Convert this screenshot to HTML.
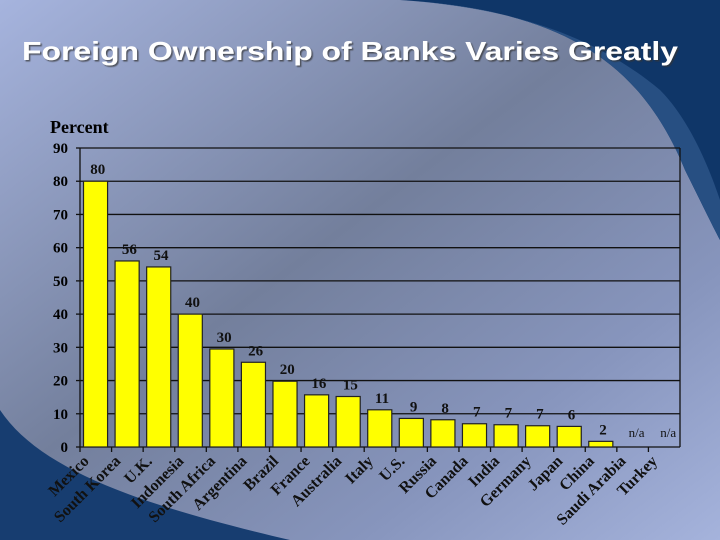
<!DOCTYPE html>
<html><head><meta charset="utf-8"><style>
html,body{margin:0;padding:0;width:720px;height:540px;overflow:hidden}
svg{display:block}
</style></head><body>
<svg width="720" height="540" viewBox="0 0 720 540">
<defs>
<linearGradient id="bg" x1="0" y1="0" x2="1" y2="1">
<stop offset="0" stop-color="#a6b4de"/>
<stop offset="0.45" stop-color="#737f9c"/>
<stop offset="0.75" stop-color="#8795bd"/>
<stop offset="1" stop-color="#a5b3dc"/>
</linearGradient>
<filter id="sh"><feDropShadow dx="1.5" dy="1.5" stdDeviation="0.6" flood-color="#333" flood-opacity="0.7"/></filter>
</defs>
<rect width="720" height="540" fill="url(#bg)"/>
<path d="M400,0 C560,10 640,60 685,170 C700,200 712,225 720,240 L720,0 Z" fill="#0f3668"/>
<path d="M400,0 C520,8 600,40 660,90 C690,120 710,170 720,200 L720,240 C712,225 700,200 685,170 C640,60 560,10 400,0Z" fill="#274f82"/>
<path d="M0,410 C40,470 140,505 290,540 L0,540 Z" fill="#173d70"/>
<text x="22" y="60" font-family="'Liberation Sans',sans-serif" font-weight="bold" font-size="26" fill="#fff" textLength="656" lengthAdjust="spacingAndGlyphs" filter="url(#sh)">Foreign Ownership of Banks Varies Greatly</text>
<g id="chart"></g>
</svg>
<script>
const categories=["Mexico","South Korea","U.K.","Indonesia","South Africa","Argentina","Brazil","France","Australia","Italy","U.S.","Russia","Canada","India","Germany","Japan","China","Saudi Arabia","Turkey"];
const values=[80,56,54.2,40,29.5,25.5,19.8,15.7,15.2,11.2,8.6,8.2,7,6.7,6.4,6.2,1.7,null,null];
const valueLabels=["80","56","54","40","30","26","20","16","15","11","9","8","7","7","7","6","2","n/a","n/a"];
const yTicks=[0,10,20,30,40,50,60,70,80,90];
const NS="http://www.w3.org/2000/svg";
const g=document.getElementById('chart');
const X0=80,X1=680,Y0=447,Y1=148,YMAX=90;
const slot=(X1-X0)/categories.length;
const y=v=>Y0-(v/YMAX)*(Y0-Y1);
const x=i=>X0+i*slot;
function mk(t,a){const e=document.createElementNS(NS,t);for(const k in a)e.setAttribute(k,a[k]);g.appendChild(e);return e;}
const F="'Liberation Serif',serif";
yTicks.forEach(t=>{
 if(t>0){const l=mk('line',{x1:X0,x2:X1,y1:y(t),y2:y(t),stroke:'#111','stroke-width':1.3});
 
 }
 const tk=mk('line',{x1:X0-4,x2:X0,y1:y(t),y2:y(t),stroke:'#111','stroke-width':1.3});
 
 
 const tx=mk('text',{x:X0-12,y:y(t)+5,'text-anchor':'end','font-family':F,'font-weight':'bold','font-size':15,fill:'#000'});
 tx.textContent=t;
 
 
});
const ax=mk('line',{x1:X0,x2:X0,y1:Y1,y2:Y0,stroke:'#111','stroke-width':1.3});


const ax2=mk('line',{x1:X1,x2:X1,y1:Y1,y2:Y0,stroke:'#111','stroke-width':1.3});


const xa=mk('line',{x1:X0,x2:X1,y1:Y0,y2:Y0,stroke:'#111','stroke-width':1.3});


const yt=mk('text',{x:50,y:133,'font-family':F,'font-weight':'bold','font-size':18,fill:'#000'});
yt.textContent='Percent';


categories.forEach((c,i)=>{
 const tk=mk('line',{x1:x(i),x2:x(i),y1:Y0,y2:Y0+5,stroke:'#111','stroke-width':1.3});
 
 
 const cx=x(i)+slot/2;
 const v=values[i];
 if(v!==null){
  const b=mk('rect',{x:x(i)+3.5,y:y(v),width:slot-7.5,height:Y0-y(v),fill:'#ffff00',stroke:'#222','stroke-width':1.2});
  
  
  const vl=mk('text',{x:cx+2,y:y(v)-7,'text-anchor':'middle','font-family':F,'font-weight':'bold','font-size':15,fill:'#111'});
  vl.textContent=valueLabels[i];
  
  
 } else {
  const vl=mk('text',{x:cx+4,y:Y0-10,'text-anchor':'middle','font-family':F,'font-size':13,fill:'#111'});
  vl.textContent=valueLabels[i];
  
  
 }
 const lx=cx-6,ly=Y0+15;
 const cl=mk('text',{x:lx,y:ly,'text-anchor':'end','font-family':F,'font-weight':'bold','font-size':16,fill:'#111',transform:`rotate(-45 ${lx} ${ly})`});
 cl.textContent=c;
 
 
});
</script>
</body></html>
